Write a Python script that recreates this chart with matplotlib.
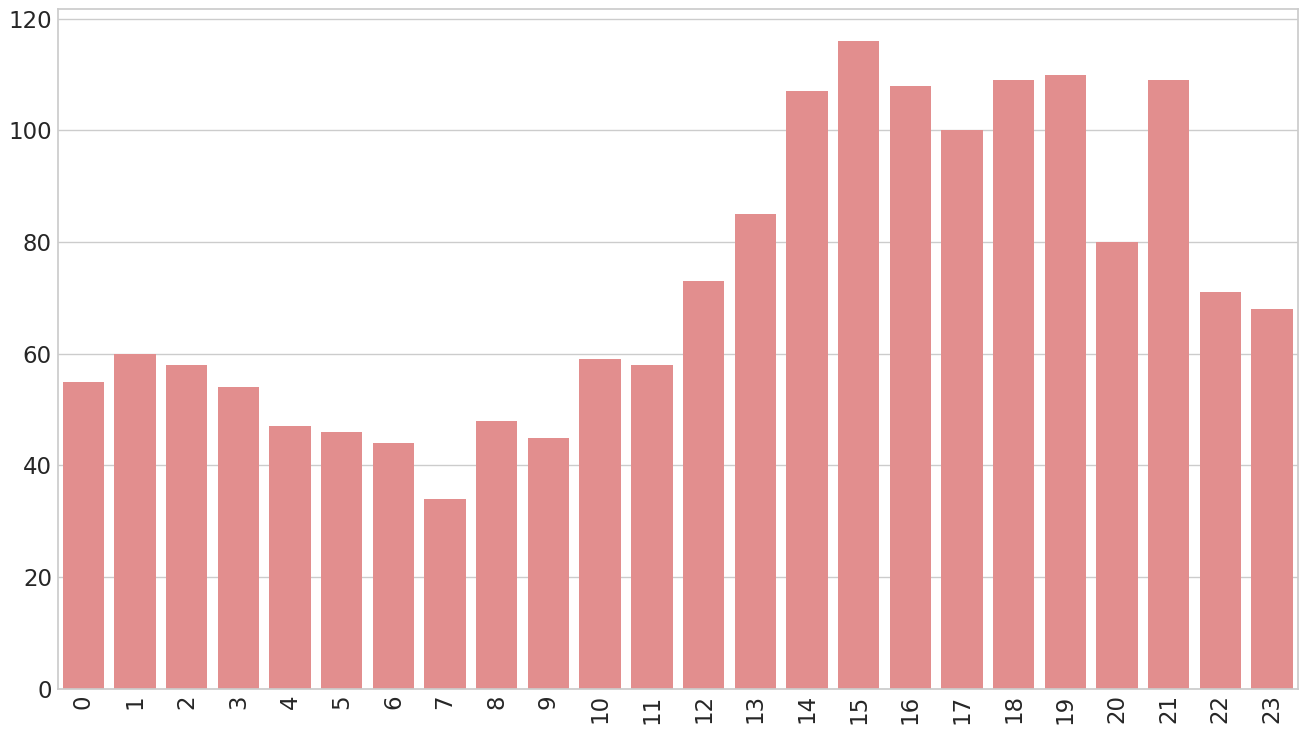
import matplotlib
matplotlib.use("Agg")
import matplotlib.pyplot as plt
import seaborn as sns

hours = list(range(24))
counts = [55, 60, 58, 54, 47, 46, 44, 34, 48, 45, 59, 58,
          73, 85, 107, 116, 108, 100, 109, 110, 80, 109, 71, 68]

sns.set_theme(style="whitegrid")
fig, ax = plt.subplots(figsize=(13.07, 7.32), dpi=100)
sns.barplot(x=hours, y=counts, color="lightcoral", linewidth=0, ax=ax)
ax.tick_params(axis="both", length=0)
ax.tick_params(axis="x", labelrotation=90, labelsize=16.5, pad=4)
ax.tick_params(axis="y", labelsize=16.5, pad=4)
ax.set_yticks([0, 20, 40, 60, 80, 100, 120])
plt.subplots_adjust(left=0.044, right=0.993, top=0.988, bottom=0.059)
plt.savefig("out.png", dpi=100)
